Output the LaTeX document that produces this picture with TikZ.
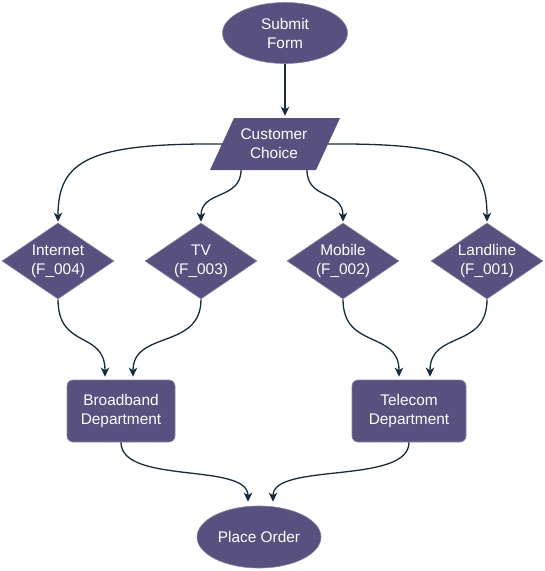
\documentclass[tikz,border=0pt]{standalone}
\usepackage{fontspec}
\setmainfont{Liberation Sans}
\usetikzlibrary{shapes.geometric,arrows.meta,calc}
\definecolor{boxfill}{HTML}{58507E}
\definecolor{edgecol}{HTML}{182B3A}
\begin{document}
\begin{tikzpicture}[x=1pt,y=-1pt,
  base/.style={fill=boxfill,draw=boxfill!70!white,line width=0.6pt,text=white,align=center,
    font=\fontsize{15.4}{19}\selectfont,inner sep=0pt},
  oval/.style={base,ellipse},
  diam/.style={base,diamond,shape aspect=1.47,minimum width=112pt,minimum height=76pt},
  dept/.style={base,rectangle,rounded corners=6pt,minimum height=62pt},
  conn/.style={draw=edgecol,line width=1.3pt,-{Stealth[length=9pt,width=8.5pt,inset=2.5pt]}}
]
\useasboundingbox (0,0) rectangle (545,571);
% nodes
\node[oval,minimum width=125pt,minimum height=61pt] (submit) at (285,33) {Submit\\Form};
\node[inner sep=0pt,minimum width=106pt,minimum height=52pt] (cc) at (275,144) {};
\fill[boxfill] ($(cc.center)+(-41,-26)$) -- ($(cc.center)+(65,-26)$) -- ($(cc.center)+(41,26)$) -- ($(cc.center)+(-65,26)$) -- cycle;
\node[text=white,align=center,font=\fontsize{15.4}{19}\selectfont] at ($(cc.center)+(-1,0)$) {Customer\\Choice};
\coordinate (ccL) at ($(cc.center)+(-53,0)$);
\coordinate (ccR) at ($(cc.center)+(53,0)$);
\coordinate (ccB1) at ($(cc.center)+(-34,26)$);
\coordinate (ccB2) at ($(cc.center)+(32,26)$);
\node[diam] (int) at (58,261) {Internet\\(F\_004)};
\node[diam] (tv) at (201,261) {TV\\(F\_003)};
\node[diam] (mob) at (343,261) {Mobile\\(F\_002)};
\node[diam] (land) at (487,261) {Landline\\(F\_001)};
\node[dept,minimum width=108pt] (bb) at (121,411) {Broadband\\Department};
\node[dept,minimum width=114pt] (tel) at (409,411) {Telecom\\Department};
\node[oval,minimum width=124pt,minimum height=62pt] (po) at (259,537) {Place Order};
% target coordinates
\coordinate (bbT1) at ($(bb.north)+(-16,-3)$);
\coordinate (bbT2) at ($(bb.north)+(12,-3)$);
\coordinate (telT1) at ($(tel.north)+(-10,-3)$);
\coordinate (telT2) at ($(tel.north)+(21,-3)$);
\coordinate (poT1) at ($(po.north)+(-11,-4)$);
\coordinate (poT2) at ($(po.north)+(14,-4)$);
% connectors
\draw[conn] (submit.south) -- ($(cc.north)+(10,-2)$);
\draw[conn] (ccL) .. controls (90,143) and (58,160) .. ($(int.north)+(0,-1)$);
\draw[conn] (ccB1) .. controls (241,200) and (201,190) .. ($(tv.north)+(0,-1)$);
\draw[conn] (ccB2) .. controls (307,200) and (343,190) .. ($(mob.north)+(0,-1)$);
\draw[conn] (ccR) .. controls (460,143) and (487,160) .. ($(land.north)+(0,-1)$);
\draw[conn] (int.south) .. controls (58,350) and (105,330) .. (bbT1);
\draw[conn] (tv.south) .. controls (201,350) and (133,330) .. (bbT2);
\draw[conn] (mob.south) .. controls (343,350) and (399,330) .. (telT1);
\draw[conn] (land.south) .. controls (487,350) and (430,330) .. (telT2);
\draw[conn] (bb.south) .. controls (121,485) and (248,462) .. (poT1);
\draw[conn] (tel.south) .. controls (409,485) and (273,462) .. (poT2);
\end{tikzpicture}
\end{document}
